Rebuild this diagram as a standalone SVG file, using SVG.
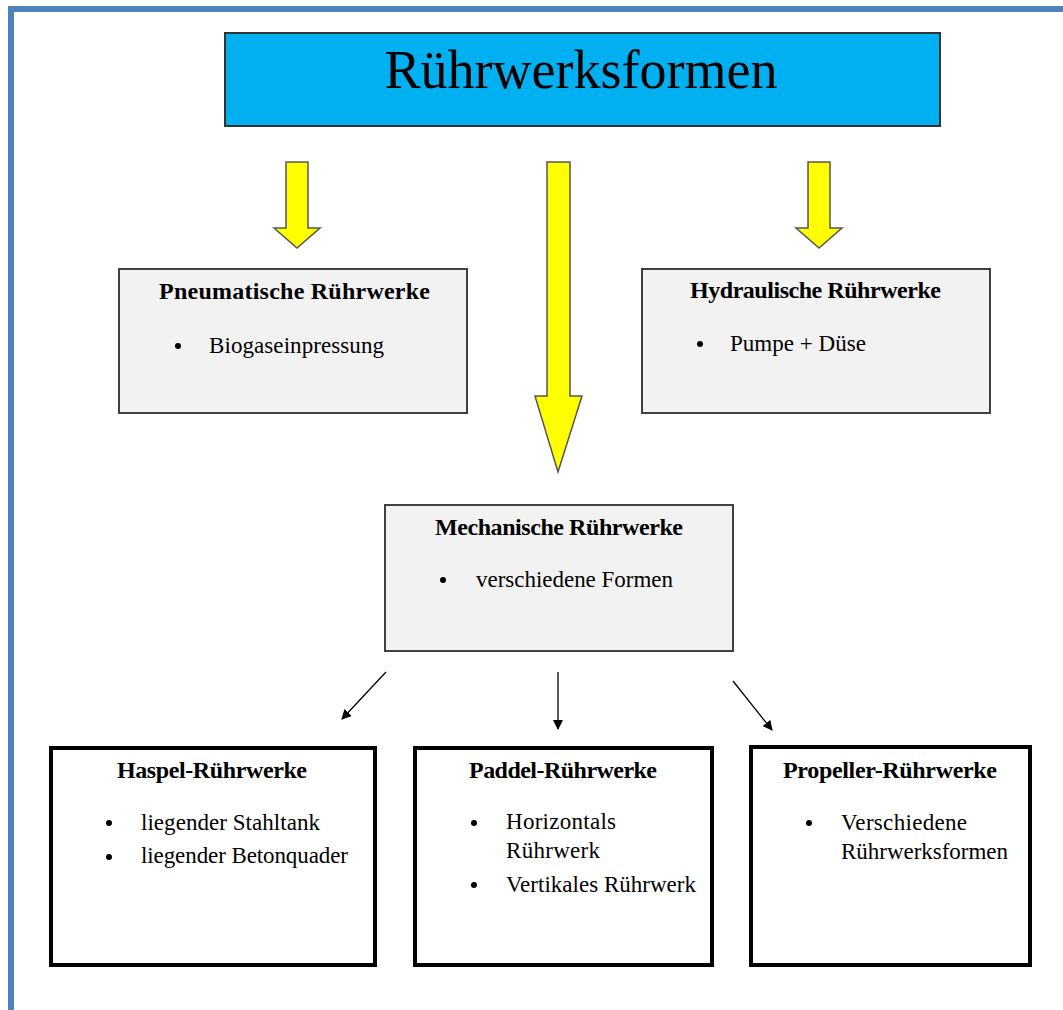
<svg xmlns="http://www.w3.org/2000/svg" width="1063" height="1010" viewBox="0 0 1063 1010">
  <style>
    .head { font-family: "Liberation Serif", "Times New Roman", serif; font-weight: bold; font-size: 24px; fill: #000; }
    .item { font-family: "Liberation Serif", "Times New Roman", serif; font-size: 23px; fill: #000; }
    .title { font-family: "Liberation Serif", "Times New Roman", serif; font-size: 54px; fill: #000; }
    .grey { fill: #f2f2f2; stroke: #404040; stroke-width: 2; }
    .bold-box { fill: #ffffff; stroke: #000; stroke-width: 4; }
    .yellow { fill: #ffff00; stroke: #555; stroke-width: 1.5; stroke-linejoin: miter; }
    .thin { stroke: #000; stroke-width: 1.3; fill: none; marker-end: url(#tip); }
  </style>
  <defs>
    <marker id="tip" viewBox="0 0 10 10" refX="9" refY="5" markerWidth="10" markerHeight="10" markerUnits="userSpaceOnUse" orient="auto">
      <path d="M0,0 L10,5 L0,10 Z" fill="#000"/>
    </marker>
  </defs>

  <rect width="1063" height="1010" fill="#ffffff"/>
  <!-- page frame -->
  <rect x="8" y="6" width="1055" height="6" fill="#4f81bd"/>
  <rect x="8" y="6" width="6" height="1004" fill="#4f81bd"/>

  <g id="title">
    <rect x="225" y="33" width="715" height="93" fill="#00b0f0" stroke="#333" stroke-width="2"/>
    <text class="title" x="581" y="88" text-anchor="middle">Rührwerksformen</text>
  </g>

  <g id="connectors">
    <!-- block arrows from the title -->
    <path class="yellow" d="M286,162 H308 V228 H320 L297,248 L274,228 H286 Z"/>
    <path class="yellow" d="M547,162 H570 V396 H582 L558,472 L535,396 H547 Z"/>
    <path class="yellow" d="M808,162 H830 V228 H842 L819,248 L796,228 H808 Z"/>
    <!-- thin arrows below the mechanical box -->
    <line class="thin" x1="386" y1="672" x2="342" y2="719"/>
    <line class="thin" x1="558" y1="672" x2="558" y2="729"/>
    <line class="thin" x1="733" y1="681" x2="772" y2="730"/>
  </g>

  <g id="pneumatisch">
    <rect class="grey" x="119" y="269" width="348" height="144"/>
    <text class="head" x="159" y="299" textLength="271">Pneumatische Rührwerke</text>
    <circle cx="178" cy="346" r="3"/>
    <text class="item" x="209" y="353" textLength="175">Biogaseinpressung</text>
  </g>

  <g id="hydraulisch">
    <rect class="grey" x="642" y="269" width="348" height="144"/>
    <text class="head" x="690" y="298" textLength="251">Hydraulische Rührwerke</text>
    <circle cx="700" cy="344" r="3"/>
    <text class="item" x="730" y="351" textLength="136">Pumpe + Düse</text>
  </g>

  <g id="mechanisch">
    <rect class="grey" x="385" y="505" width="348" height="146"/>
    <text class="head" x="435" y="535" textLength="248">Mechanische Rührwerke</text>
    <circle cx="443" cy="580" r="3"/>
    <text class="item" x="476" y="587" textLength="197">verschiedene Formen</text>
  </g>

  <g id="haspel">
    <rect class="bold-box" x="51" y="748" width="324" height="217"/>
    <text class="head" x="117" y="778" textLength="190">Haspel-Rührwerke</text>
    <circle cx="109" cy="823" r="3"/>
    <text class="item" x="141" y="830" textLength="179">liegender Stahltank</text>
    <circle cx="109" cy="857" r="3"/>
    <text class="item" x="141" y="863" textLength="207">liegender Betonquader</text>
  </g>

  <g id="paddel">
    <rect class="bold-box" x="415" y="748" width="297" height="217"/>
    <text class="head" x="469" y="778" textLength="188">Paddel-Rührwerke</text>
    <circle cx="474" cy="823" r="3"/>
    <text class="item" x="506" y="829" textLength="110">Horizontals</text>
    <text class="item" x="506" y="858" textLength="94">Rührwerk</text>
    <circle cx="474" cy="885" r="3"/>
    <text class="item" x="506" y="892" textLength="190">Vertikales Rührwerk</text>
  </g>

  <g id="propeller">
    <rect class="bold-box" x="751" y="747" width="279" height="218"/>
    <text class="head" x="783" y="778" textLength="214">Propeller-Rührwerke</text>
    <circle cx="809" cy="823" r="3"/>
    <text class="item" x="841" y="830" textLength="126">Verschiedene</text>
    <text class="item" x="841" y="859" textLength="167">Rührwerksformen</text>
  </g>
</svg>
